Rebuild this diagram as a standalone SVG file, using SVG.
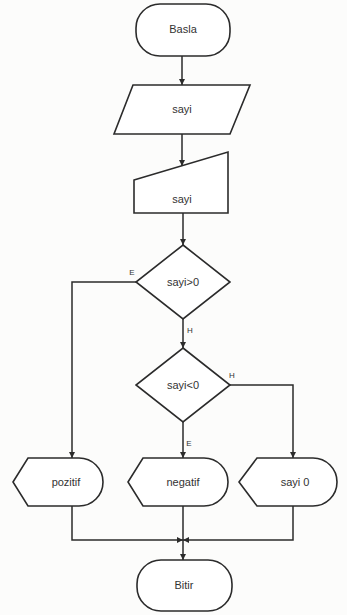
<svg xmlns="http://www.w3.org/2000/svg" width="347" height="615" viewBox="0 0 347 615">
  <style>
    .shape { fill: #ffffff; stroke: #2b2b2b; stroke-width: 1.6; }
    .line { fill: none; stroke: #2b2b2b; stroke-width: 1.5; }
    .lbl { font-family: "Liberation Sans Narrow", "Liberation Sans", Arial, sans-serif; font-size: 11px; fill: #333333; text-anchor: middle; dominant-baseline: middle; }
    .tag { font-family: "Liberation Sans", Arial, sans-serif; font-size: 8px; fill: #333333; text-anchor: middle; }
  </style>
  <defs>
    <marker id="arrow" viewBox="0 0 10 10" refX="10" refY="5" markerWidth="6" markerHeight="6" orient="auto-start-reverse" markerUnits="userSpaceOnUse">
      <path d="M0,0 L10,5 L0,10 Z" fill="#2b2b2b"/>
    </marker>
  </defs>
  <rect width="347" height="615" fill="#fcfcfb"/>

  <g id="connectors">
    <line class="line" x1="182" y1="56" x2="182" y2="85" marker-end="url(#arrow)"/>
    <line class="line" x1="182" y1="134" x2="182" y2="166" marker-end="url(#arrow)"/>
    <line class="line" x1="183" y1="213" x2="183" y2="245" marker-end="url(#arrow)"/>
    <line class="line" x1="183" y1="319" x2="183" y2="348" marker-end="url(#arrow)"/>
    <polyline class="line" points="136,282 72,282 72,458" marker-end="url(#arrow)"/>
    <line class="line" x1="183" y1="422" x2="183" y2="458" marker-end="url(#arrow)"/>
    <polyline class="line" points="230,385 293,385 293,458" marker-end="url(#arrow)"/>
    <polyline class="line" points="72,506 72,540 183,540" marker-end="url(#arrow)"/>
    <polyline class="line" points="293,506 293,540 183,540" marker-end="url(#arrow)"/>
    <line class="line" x1="183" y1="506" x2="183" y2="540"/>
    <line class="line" x1="183" y1="540" x2="183" y2="560" marker-end="url(#arrow)"/>
    <text class="tag" x="132" y="275">E</text>
    <text class="tag" x="190" y="333">H</text>
    <text class="tag" x="232" y="378">H</text>
    <text class="tag" x="189" y="446">E</text>
  </g>

  <g id="start">
    <rect class="shape" x="136" y="4" width="94" height="52" rx="24"/>
    <text class="lbl" x="183" y="30">Basla</text>
  </g>

  <g id="input">
    <polygon class="shape" points="133,85 250,85 230,134 114,134"/>
    <text class="lbl" x="182" y="110">sayi</text>
  </g>

  <g id="manual-input">
    <polygon class="shape" points="134,180 228,152 228,213 134,213"/>
    <text class="lbl" x="182" y="200">sayi</text>
  </g>

  <g id="decision-positive">
    <polygon class="shape" points="183,245 230,282 183,319 136,282"/>
    <text class="lbl" x="183" y="283">sayi&gt;0</text>
  </g>

  <g id="decision-negative">
    <polygon class="shape" points="183,348 230,385 183,422 136,385"/>
    <text class="lbl" x="183" y="386">sayi&lt;0</text>
  </g>

  <g id="display-pozitif">
    <path class="shape" d="M13,482 L28,458 L79,458 A24,24 0 0 1 79,506 L28,506 Z"/>
    <text class="lbl" x="66" y="483">pozitif</text>
  </g>

  <g id="display-negatif">
    <path class="shape" d="M128,482 L143,458 L204,458 A24,24 0 0 1 204,506 L143,506 Z"/>
    <text class="lbl" x="183" y="483">negatif</text>
  </g>

  <g id="display-sifir">
    <path class="shape" d="M239,482 L257,458 L313,458 A24,24 0 0 1 313,506 L257,506 Z"/>
    <text class="lbl" x="295" y="483">sayi 0</text>
  </g>

  <g id="end">
    <rect class="shape" x="137" y="560" width="95" height="51" rx="24"/>
    <text class="lbl" x="184" y="586">Bitir</text>
  </g>
</svg>
